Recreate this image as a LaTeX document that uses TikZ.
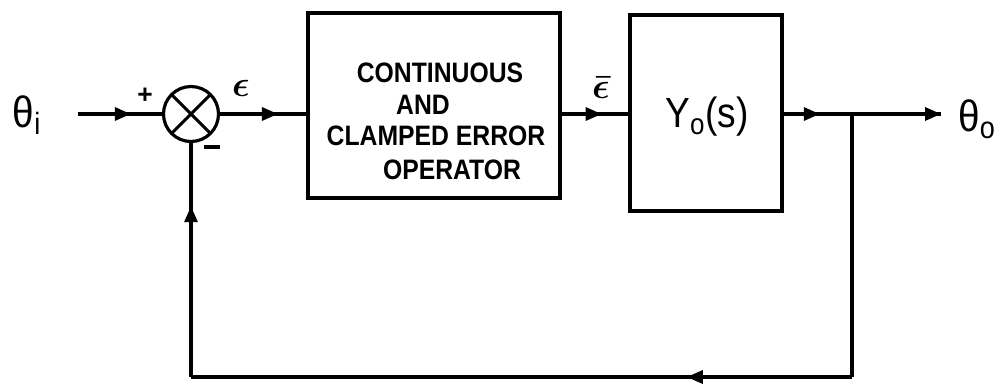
\documentclass[tikz,border=0pt]{standalone}
\usepackage{fontspec}
\setmainfont{Liberation Sans}
\newfontfamily\lettering[FakeStretch=0.88]{Liberation Sans}
\usetikzlibrary{arrows.meta,decorations.markings}
\tikzset{
  wire/.style={line width=1.8pt},
  blk/.style={draw, line width=1.8pt, inner sep=0pt},
  sumj/.style={circle, draw, line width=1.8pt, minimum size=1.1cm, inner sep=0pt,
    path picture={\draw[line width=1.8pt] (path picture bounding box.north west) -- (path picture bounding box.south east)
      (path picture bounding box.north east) -- (path picture bounding box.south west);}},
  arrowat/.style={postaction={decorate}, decoration={markings, mark=at position #1 with {\arrow{Triangle[length=3.2mm,width=2.6mm]}}}},
  lbl/.style={font=\lettering\bfseries\fontsize{16}{18}\selectfont, inner sep=0pt},
  sgn/.style={font=\bfseries\fontsize{15}{17}\selectfont, inner sep=0pt},
  big/.style={font=\lettering\fontsize{25}{28}\selectfont, inner sep=0pt},
  eps/.style={font=\boldmath\fontsize{22}{26}\selectfont, inner sep=0pt},
}
\begin{document}
\begin{tikzpicture}[x=0.02cm,y=-0.02cm]
\useasboundingbox (0,0) rectangle (1000,383);
% blocks
\node[sumj] (sum) at (191,114) {};
\node[blk, minimum width=5.04cm, minimum height=3.7cm] (b1) at (434,105.5) {};
\node[blk, minimum width=3.04cm, minimum height=3.92cm] (b2) at (706,113) {};
% block texts
\node[lbl] (t1) at (440,73) {CONTINUOUS};
\node[lbl] (t2) at (423,105) {AND};
\node[lbl] (t3) at (436,136) {CLAMPED ERROR};
\node[lbl] (t4) at (452,170) {OPERATOR};
\node[font=\lettering\fontsize{24}{27}\selectfont, inner sep=0pt] (g) at (707,117) {Y\textsubscript{o}(s)};
% signals
\node[big] (thi) at (27,115) {θ\textsubscript{i}};
\node[big] (tho) at (977,119) {θ\textsubscript{o}};
\node[sgn] (plus) at (145,96) {+};
\node[sgn] (minus) at (212,147) {\rule{9pt}{1.8pt}};
\node[eps] (eps) at (241,88) {$\epsilon$};
\node[eps] (epsb) at (601,88) {$\bar{\epsilon}$};
% coordinates
\coordinate (in) at (78,114);
\coordinate (out) at (941,114);
\coordinate (br) at (852,114);
\coordinate (c1) at (852,377);
\coordinate (c2) at (191,377);
% connectors
\draw[wire, arrowat=0.63] (in) -- (sum.west);
\draw[wire, arrowat=0.67] (sum.east) -- (sum.east -| b1.west);
\draw[wire, arrowat=0.6] (b1.east |- sum) -- (b2.west |- sum);
\draw[wire, arrowat=0.53] (b2.east |- sum) -- (br);
\draw[wire, arrowat=1] (br) -- (out);
\draw[wire] (br) -- (c1);
\draw[wire, arrowat=0.25] (c1) -- (c2);
\draw[wire, arrowat=0.73] (c2) -- (sum.south);
\end{tikzpicture}
\end{document}
